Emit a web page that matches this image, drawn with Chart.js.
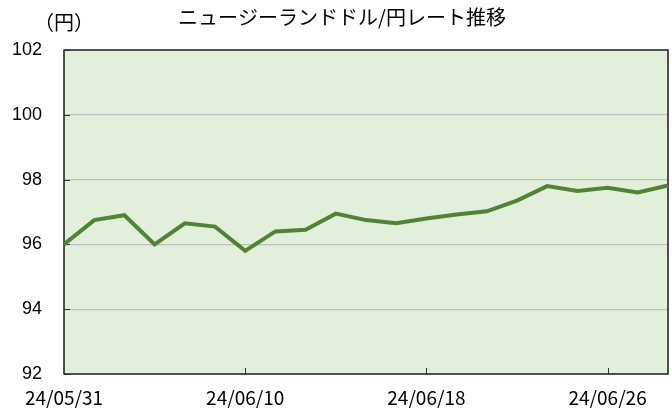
<!DOCTYPE html>
<html>
<head>
<meta charset="utf-8">
<script src="https://cdn.jsdelivr.net/npm/chart.js@4/dist/chart.umd.min.js"></script>
<style>
  body { margin: 0; background: #fff; }
  #wrap { width: 672px; height: 408px; }
</style>
</head>
<body>
<div id="wrap"><canvas id="chart" width="672" height="408"></canvas></div>
<script>
// trading days, 24/05/31 - 24/06/28
var dates = ["24/05/31", "24/06/03", "24/06/04", "24/06/05", "24/06/06", "24/06/07",
             "24/06/10", "24/06/11", "24/06/12", "24/06/13", "24/06/14", "24/06/17",
             "24/06/18", "24/06/19", "24/06/20", "24/06/21", "24/06/24", "24/06/25",
             "24/06/26", "24/06/27", "24/06/28"];
var nzdJpy = [96.0, 96.75, 96.9, 96.0, 96.65, 96.55,
              95.8, 96.4, 96.45, 96.95, 96.75, 96.65,
              96.8, 96.92, 97.02, 97.35, 97.8, 97.65,
              97.75, 97.6, 97.82];
var yTicks = [92, 94, 96, 98, 100, 102];
var shownDates = ["24/05/31", "24/06/10", "24/06/18", "24/06/26"];
var chartTitle = "ニュージーランドドル/円レート推移";
var unitLabel = "（円）";

var cjkFont = "'Noto Sans CJK JP', 'DejaVu Sans', sans-serif";
var numFont = "'Liberation Sans', Arial, sans-serif";

// background, frame, inner tick marks and titles
var framePlugin = {
    id: 'frame',
    beforeDraw: function(chart) {
        var a = chart.chartArea, ctx = chart.ctx;
        ctx.save();
        ctx.fillStyle = '#e2efda';
        ctx.fillRect(a.left, a.top, a.right - a.left, a.bottom - a.top);
        ctx.restore();
    },
    beforeDatasetsDraw: function(chart) {
        var a = chart.chartArea, ctx = chart.ctx;
        var xs = chart.scales.x, ys = chart.scales.y;
        ctx.save();
        ctx.strokeStyle = '#1a1a1a';
        ctx.lineWidth = 1.5;
        ctx.strokeRect(a.left, a.top, a.right - a.left, a.bottom - a.top);
        ctx.lineWidth = 1;
        ctx.strokeStyle = '#333';
        ctx.beginPath();
        for (var i = 0; i < yTicks.length; i++) {
            var y = Math.round(ys.getPixelForValue(yTicks[i])) + 0.5;
            ctx.moveTo(a.left, y);
            ctx.lineTo(a.left + 6, y);
        }
        for (var j = 1; j < shownDates.length; j++) {
            var x = Math.round(xs.getPixelForValue(dates.indexOf(shownDates[j]))) + 0.5;
            ctx.moveTo(x, a.bottom);
            ctx.lineTo(x, a.bottom - 6);
        }
        ctx.stroke();
        ctx.restore();
    },
    afterDraw: function(chart) {
        var ctx = chart.ctx;
        ctx.save();
        ctx.fillStyle = '#000';
        ctx.textBaseline = 'middle';
        ctx.textAlign = 'center';
        ctx.font = "20px " + cjkFont;
        ctx.fillText(chartTitle, 342, 17);
        ctx.font = "20px " + cjkFont;
        ctx.fillText(unitLabel, 64, 22);
        ctx.restore();
    }
};

new Chart(document.getElementById('chart'), {
    type: 'line',
    data: {
        labels: dates,
        datasets: [{
            data: nzdJpy,
            borderColor: '#548235',
            borderWidth: 4,
            pointRadius: 0,
            tension: 0,
            fill: false
        }]
    },
    options: {
        responsive: false,
        animation: false,
        layout: { padding: { top: 50, right: 4, left: 0, bottom: 0 } },
        plugins: {
            legend: { display: false },
            tooltip: { enabled: false }
        },
        scales: {
            x: {
                offset: false,
                grid: { display: false, drawTicks: false },
                border: { display: false },
                afterFit: function(s) {
                    s.height = 34;
                    s.paddingLeft = 0;
                    s.paddingRight = 0;
                },
                ticks: {
                    autoSkip: false,
                    maxRotation: 0,
                    padding: 12,
                    color: '#000',
                    font: { family: cjkFont, size: 19 },
                    callback: function(v, i) {
                        var d = dates[i];
                        return shownDates.indexOf(d) >= 0 ? d : '';
                    }
                }
            },
            y: {
                min: 92,
                max: 102,
                afterFit: function(s) {
                    s.width = 64;
                    s.paddingTop = 0;
                    s.paddingBottom = 0;
                },
                afterBuildTicks: function(s) {
                    s.ticks = yTicks.map(function(v) { return { value: v }; });
                },
                grid: {
                    color: function(c) {
                        return (c.tick && (c.tick.value === 92 || c.tick.value === 102)) ? 'rgba(0,0,0,0)' : '#bfbfbf';
                    },
                    lineWidth: 1.2,
                    drawTicks: false
                },
                border: { display: false },
                ticks: {
                    padding: 22,
                    color: '#000',
                    font: { family: numFont, size: 18 }
                }
            }
        }
    },
    plugins: [framePlugin]
});
</script>
</body>
</html>
